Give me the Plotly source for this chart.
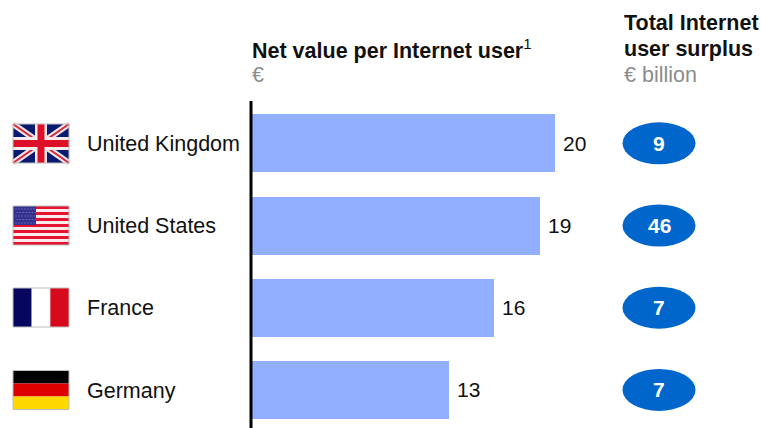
import plotly.graph_objects as go

WIDTH, HEIGHT = 761, 428

countries = ["United Kingdom", "United States", "France", "Germany"]
net_value = [20, 19, 16, 13]
surplus = [9, 46, 7, 7]

BAR_COLOR = "#91AEFF"
BUBBLE_COLOR = "#0066CC"
GREY = "#8C8C8C"
INK = "#111111"
FONT = "Liberation Sans"

# Horizontal scale: pixels per euro, with the zero line at pixel 251.
X_ZERO, X_UNIT = 251, 15.2
# Vertical scale: the first row centre and the distance between rows.
Y_ZERO, Y_UNIT = 143.3, 82.2
BUBBLE_X = (659 - X_ZERO) / X_UNIT


def px(x):
    return x / WIDTH


def py(y):
    return 1 - y / HEIGHT


def rect(x0, y0, x1, y1, color):
    return dict(type="rect", xref="paper", yref="paper", x0=px(x0), x1=px(x1),
                y0=py(y0), y1=py(y1), fillcolor=color, line_width=0, layer="above")


def seg(x0, y0, x1, y1, color, width):
    return dict(type="line", xref="paper", yref="paper", x0=px(x0), x1=px(x1),
                y0=py(y0), y1=py(y1), line=dict(color=color, width=width), layer="above")


def border(x0, y0, x1, y1):
    return dict(type="rect", xref="paper", yref="paper", x0=px(x0), x1=px(x1),
                y0=py(y0), y1=py(y1), fillcolor="rgba(0,0,0,0)",
                line=dict(color="#BDBDBD", width=1), layer="above")


FLAG_L, FLAG_R = 13, 69
FLAG_H = 39


def uk_flag(top):
    b = top + FLAG_H
    mx, my = (FLAG_L + FLAG_R) / 2, top + FLAG_H / 2
    return [
        rect(FLAG_L, top, FLAG_R, b, "#0A1A6E"),
        seg(FLAG_L, top, FLAG_R, b, "#F3E6E6", 6),
        seg(FLAG_L, b, FLAG_R, top, "#F3E6E6", 6),
        seg(FLAG_L, top, FLAG_R, b, "#D8263A", 2),
        seg(FLAG_L, b, FLAG_R, top, "#D8263A", 2),
        rect(mx - 6, top, mx + 6, b, "#F6ECEC"),
        rect(FLAG_L, my - 6.5, FLAG_R, my + 6.5, "#F6ECEC"),
        rect(mx - 3.5, top, mx + 3.5, b, "#DC1028"),
        rect(FLAG_L, my - 3.5, FLAG_R, my + 3.5, "#DC1028"),
        border(FLAG_L, top, FLAG_R, b),
    ]


def us_flag(top):
    b = top + FLAG_H
    out = [rect(FLAG_L, top, FLAG_R, b, "#FBE9EC")]
    stripe = FLAG_H / 13
    for i in range(0, 13, 2):
        out.append(rect(FLAG_L, top + i * stripe, FLAG_R, top + (i + 1) * stripe, "#E4132F"))
    out.append(rect(FLAG_L, top, FLAG_L + 23, top + 19, "#33318F"))
    for r in range(5):
        for c in range(7):
            cx = FLAG_L + 2.5 + c * 3 + (r % 2) * 1.2
            cy = top + 2.5 + r * 3.5
            out.append(rect(cx, cy, cx + 1, cy + 1, "#8D8CC4"))
    out.append(border(FLAG_L, top, FLAG_R, b))
    return out


def fr_flag(top):
    b = top + FLAG_H
    third = (FLAG_R - FLAG_L) / 3
    return [
        rect(FLAG_L, top, FLAG_L + third, b, "#06065E"),
        rect(FLAG_L + third, top, FLAG_L + 2 * third, b, "#FFFFFF"),
        rect(FLAG_L + 2 * third, top, FLAG_R, b, "#D60A1C"),
        border(FLAG_L, top, FLAG_R, b),
    ]


def de_flag(top):
    b = top + FLAG_H
    band = FLAG_H / 3
    return [
        rect(FLAG_L, top, FLAG_R, top + band, "#000000"),
        rect(FLAG_L, top + band, FLAG_R, top + 2 * band, "#DE0000"),
        rect(FLAG_L, top + 2 * band, FLAG_R, b, "#FFD800"),
        border(FLAG_L, top, FLAG_R, b),
    ]


flag_makers = [uk_flag, us_flag, fr_flag, de_flag]
flag_tops = [124, 206, 288, 370.5]

shapes = []
for maker, top in zip(flag_makers, flag_tops):
    shapes += maker(top)

# Ellipses behind the surplus figures.
for i in range(len(surplus)):
    shapes.append(dict(type="circle", xref="x", yref="y",
                       x0=BUBBLE_X - 36.5 / X_UNIT, x1=BUBBLE_X + 36.5 / X_UNIT,
                       y0=i - 21 / Y_UNIT, y1=i + 21 / Y_UNIT,
                       fillcolor=BUBBLE_COLOR, line_width=0, layer="below"))

# Vertical baseline of the bars.
shapes.append(seg(X_ZERO, 101, X_ZERO, 428, "#000000", 3))

rows = list(range(len(countries)))

fig = go.Figure()
fig.add_trace(go.Bar(
    x=net_value, y=rows, orientation="h", width=58 / Y_UNIT,
    marker=dict(color=BAR_COLOR, line_width=0),
    hoverinfo="skip",
))


def label(x, y, text, color=INK, size=21.5):
    return dict(xref="paper", yref="paper", x=px(x), y=py(y), text=text,
                showarrow=False, xanchor="left", yanchor="middle",
                font=dict(family=FONT, size=size, color=color), align="left",
                borderpad=0, borderwidth=0)


annotations = [label(87, 144 + i * Y_UNIT, name) for i, name in enumerate(countries)]
annotations += [
    label(252, 49, "<b>Net value per Internet user</b><sup>1</sup>"),
    label(252, 75, "€", GREY),
    label(624, 23, "<b>Total Internet</b>"),
    label(624, 49, "<b>user surplus</b>"),
    label(624, 75, "€ billion", GREY),
]

# Value labels sit just past each bar end; surplus figures sit inside the ellipses.
for i, v in enumerate(net_value):
    annotations.append(dict(xref="x", yref="y", x=v, y=i, text=str(v), showarrow=False,
                            xanchor="left", yanchor="middle", xshift=6,
                            font=dict(family=FONT, size=21, color=INK)))
for i, v in enumerate(surplus):
    annotations.append(dict(xref="x", yref="y", x=BUBBLE_X, y=i, text=f"<b>{v}</b>",
                            showarrow=False, xanchor="center", yanchor="middle",
                            font=dict(family=FONT, size=21, color="white")))

fig.update_layout(
    width=WIDTH, height=HEIGHT,
    margin=dict(l=0, r=0, t=0, b=0),
    paper_bgcolor="white", plot_bgcolor="white",
    showlegend=False, bargap=0,
    xaxis=dict(range=[-X_ZERO / X_UNIT, (WIDTH - X_ZERO) / X_UNIT], visible=False, fixedrange=True),
    yaxis=dict(range=[(HEIGHT - Y_ZERO) / Y_UNIT, -Y_ZERO / Y_UNIT], visible=False, fixedrange=True),
    shapes=shapes, annotations=annotations,
)

fig.write_html("out.html", config={"displayModeBar": False})
